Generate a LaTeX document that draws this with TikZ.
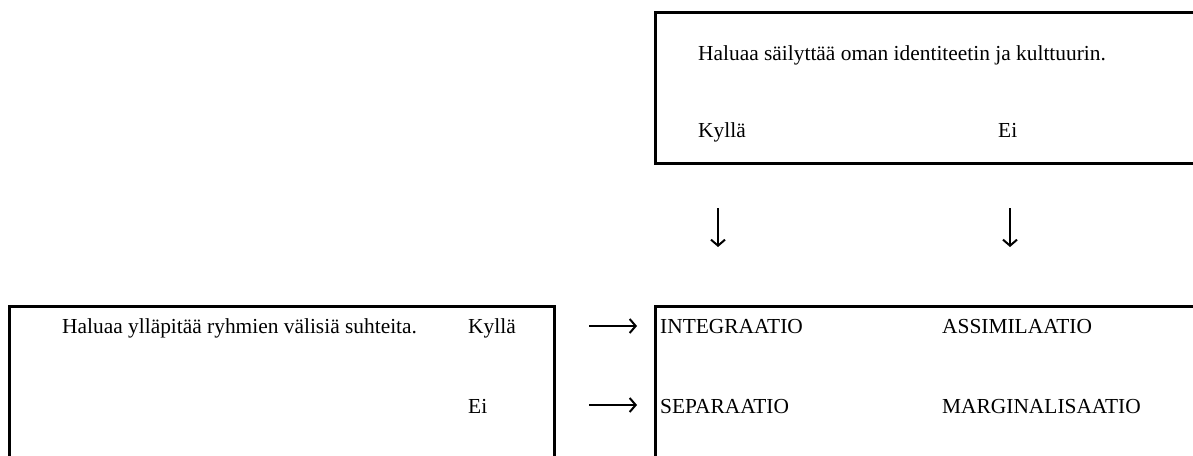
\documentclass[tikz,border=0pt]{standalone}
\usepackage{fontspec}
\setmainfont{Liberation Serif}
\usetikzlibrary{arrows.meta}

\tikzset{
  laatikko/.style={draw, line width=3pt},
  teksti/.style={anchor=base west, inner sep=0pt, font=\fontsize{21.4}{25}\selectfont},
  nuoli/.style={line width=2pt, -{Straight Barb[length=6pt,width=14pt,line width=2pt]}},
}

\begin{document}
\begin{tikzpicture}[x=1pt,y=-1pt]
        \useasboundingbox (0,0) rectangle (1193,455);
        \clip (0,0) rectangle (1193,455);
        % ylalaatikko
        \draw[laatikko] (655,12) rectangle (1230,163);
        \node[teksti] (sailyttaa) at (698,60) {Haluaa säilyttää oman identiteetin ja kulttuurin.};
        \node[teksti] (kylla1) at (698,137) {Kyllä};
        \node[teksti] (ei1) at (998,137) {Ei};
        % nuolet alas
        \coordinate (ka) at (718,208);
        \coordinate (kb) at (718,247);
        \draw[nuoli] (ka) -- (kb);
        \coordinate (ea) at (1010,208);
        \coordinate (eb) at (1010,247);
        \draw[nuoli] (ea) -- (eb);
        % vasen alalaatikko
        \draw[laatikko] (9,306) rectangle (554,480);
        \node[teksti] (yllapitaa) at (62,333) {Haluaa ylläpitää ryhmien välisiä suhteita.};
        \node[teksti] (kylla2) at (468,333) {Kyllä};
        \node[teksti] (ei2) at (468,413) {Ei};
        % oikea alalaatikko
        \draw[laatikko] (655,306) rectangle (1230,480);
        \node[teksti] (integ) at (660,333) {INTEGRAATIO};
        \node[teksti] (assim) at (942,333) {ASSIMILAATIO};
        \node[teksti] (separ) at (660,413) {SEPARAATIO};
        \node[teksti] (margi) at (942,413) {MARGINALISAATIO};
        % nuolet oikealle
        \coordinate (ya) at (589,326);
        \coordinate (yb) at (637,326);
        \draw[nuoli] (ya) -- (yb);
        \coordinate (za) at (589,405);
        \coordinate (zb) at (637,405);
        \draw[nuoli] (za) -- (zb);
\end{tikzpicture}
\end{document}
